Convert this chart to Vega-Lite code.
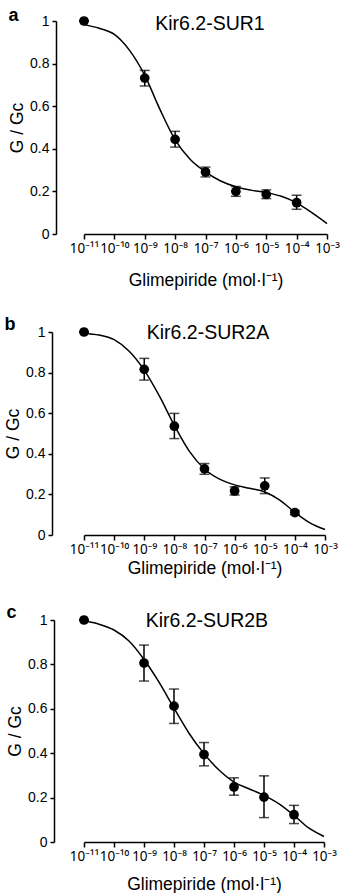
{
  "$schema": "https://vega.github.io/schema/vega-lite/v6.json",
  "padding": {"left": 4, "top": 6, "right": 6, "bottom": 0},
  "background": "white",
  "datasets": {
    "curveA": [
      {"conc": 1e-11, "g": 0.983}, {"conc": 3.162e-11, "g": 0.966}, {"conc": 1e-10, "g": 0.937},
      {"conc": 3.162e-10, "g": 0.862}, {"conc": 1e-9, "g": 0.745}, {"conc": 3.162e-9, "g": 0.585},
      {"conc": 1e-8, "g": 0.442}, {"conc": 3.162e-8, "g": 0.350}, {"conc": 1e-7, "g": 0.292},
      {"conc": 3.162e-7, "g": 0.249}, {"conc": 1e-6, "g": 0.222}, {"conc": 3.162e-6, "g": 0.206},
      {"conc": 1e-5, "g": 0.194}, {"conc": 3.162e-5, "g": 0.177}, {"conc": 1e-4, "g": 0.146},
      {"conc": 3.162e-4, "g": 0.100}, {"conc": 1e-3, "g": 0.049}
    ],
    "ptsA": [
      {"conc": 1e-11, "g": 1.0, "lo": 1.0, "hi": 1.0},
      {"conc": 1e-9, "g": 0.732, "lo": 0.695, "hi": 0.768},
      {"conc": 1e-8, "g": 0.444, "lo": 0.408, "hi": 0.482},
      {"conc": 1e-7, "g": 0.291, "lo": 0.268, "hi": 0.314},
      {"conc": 1e-6, "g": 0.200, "lo": 0.177, "hi": 0.223},
      {"conc": 1e-5, "g": 0.186, "lo": 0.166, "hi": 0.207},
      {"conc": 1e-4, "g": 0.147, "lo": 0.116, "hi": 0.182}
    ],
    "curveB": [
      {"conc": 1e-11, "g": 0.993}, {"conc": 3.162e-11, "g": 0.985}, {"conc": 1e-10, "g": 0.962},
      {"conc": 3.162e-10, "g": 0.905}, {"conc": 1e-9, "g": 0.812}, {"conc": 3.162e-9, "g": 0.685},
      {"conc": 1e-8, "g": 0.540}, {"conc": 3.162e-8, "g": 0.412}, {"conc": 1e-7, "g": 0.325},
      {"conc": 3.162e-7, "g": 0.275}, {"conc": 1e-6, "g": 0.247}, {"conc": 3.162e-6, "g": 0.230},
      {"conc": 1e-5, "g": 0.212}, {"conc": 3.162e-5, "g": 0.172}, {"conc": 1e-4, "g": 0.112},
      {"conc": 3.162e-4, "g": 0.060}, {"conc": 1e-3, "g": 0.027}
    ],
    "ptsB": [
      {"conc": 1e-11, "g": 1.0, "lo": 1.0, "hi": 1.0},
      {"conc": 1e-9, "g": 0.816, "lo": 0.763, "hi": 0.870},
      {"conc": 1e-8, "g": 0.536, "lo": 0.475, "hi": 0.599},
      {"conc": 1e-7, "g": 0.326, "lo": 0.299, "hi": 0.352},
      {"conc": 1e-6, "g": 0.217, "lo": 0.197, "hi": 0.237},
      {"conc": 1e-5, "g": 0.242, "lo": 0.204, "hi": 0.281},
      {"conc": 1e-4, "g": 0.110, "lo": 0.100, "hi": 0.120}
    ],
    "curveC": [
      {"conc": 1e-11, "g": 0.995}, {"conc": 3.162e-11, "g": 0.981}, {"conc": 1e-10, "g": 0.955},
      {"conc": 3.162e-10, "g": 0.905}, {"conc": 1e-9, "g": 0.822}, {"conc": 3.162e-9, "g": 0.720},
      {"conc": 1e-8, "g": 0.603}, {"conc": 3.162e-8, "g": 0.490}, {"conc": 1e-7, "g": 0.398},
      {"conc": 3.162e-7, "g": 0.324}, {"conc": 1e-6, "g": 0.270}, {"conc": 3.162e-6, "g": 0.240},
      {"conc": 1e-5, "g": 0.210}, {"conc": 3.162e-5, "g": 0.172}, {"conc": 1e-4, "g": 0.120},
      {"conc": 3.162e-4, "g": 0.062}, {"conc": 1e-3, "g": 0.025}
    ],
    "ptsC": [
      {"conc": 1e-11, "g": 1.0, "lo": 1.0, "hi": 1.0},
      {"conc": 1e-9, "g": 0.806, "lo": 0.725, "hi": 0.887},
      {"conc": 1e-8, "g": 0.612, "lo": 0.534, "hi": 0.689},
      {"conc": 1e-7, "g": 0.394, "lo": 0.343, "hi": 0.448},
      {"conc": 1e-6, "g": 0.248, "lo": 0.211, "hi": 0.289},
      {"conc": 1e-5, "g": 0.202, "lo": 0.110, "hi": 0.298},
      {"conc": 1e-4, "g": 0.123, "lo": 0.083, "hi": 0.165}
    ]
  },
  "spacing": 27,
  "vconcat": [
    {
      "width": 243, "height": 213,
      "title": {"text": "a", "anchor": "start", "frame": "bounds", "fontSize": 18, "fontWeight": "bold", "baseline": "alphabetic", "offset": -25},
      "layer": [
        {"data": {"name": "curveA"}, "mark": {"type": "line", "interpolate": "monotone", "color": "black", "strokeWidth": 1.5},
         "encoding": {
           "x": {"field": "conc", "type": "quantitative", "title": "Glimepiride (mol·l⁻¹)",
             "scale": {"type": "log", "domain": [1e-11, 1e-3], "nice": false},
             "axis": {"values": [1e-11, 1e-10, 1e-9, 1e-8, 1e-7, 1e-6, 1e-5, 1e-4, 1e-3], "titlePadding": 17,
               "labelExpr": "'10' + ['⁻¹¹','⁻¹⁰','⁻⁹','⁻⁸','⁻⁷','⁻⁶','⁻⁵','⁻⁴','⁻³'][round(log(datum.value)/LN10)+11]"}},
           "y": {"field": "g", "type": "quantitative", "title": "G / Gc", "scale": {"domain": [0, 1], "nice": false},
             "axis": {"values": [0, 0.2, 0.4, 0.6, 0.8, 1], "format": "~g", "offset": 28}}}},
        {"data": {"name": "ptsA"}, "mark": {"type": "errorbar", "color": "black", "thickness": 1.5, "ticks": {"size": 10}},
         "encoding": {"x": {"field": "conc", "type": "quantitative", "title": "Glimepiride (mol·l⁻¹)"},
           "y": {"field": "lo", "type": "quantitative", "title": "G / Gc"}, "y2": {"field": "hi"}}},
        {"data": {"name": "ptsA"}, "mark": {"type": "point", "filled": true, "size": 95, "color": "black", "opacity": 1},
         "encoding": {"x": {"field": "conc", "type": "quantitative", "title": "Glimepiride (mol·l⁻¹)"},
           "y": {"field": "g", "type": "quantitative", "title": "G / Gc"}}},
        {"data": {"values": [{"label": "Kir6.2-SUR1"}]}, "mark": {"type": "text", "fontSize": 19.5, "baseline": "alphabetic", "align": "center", "color": "black"},
         "encoding": {"x": {"datum": 1.4e-7}, "y": {"datum": 0.958}, "text": {"field": "label", "type": "nominal"}}}
      ]
    },
    {
      "width": 241, "height": 203,
      "title": {"text": "b", "anchor": "start", "frame": "bounds", "fontSize": 18, "fontWeight": "bold", "baseline": "alphabetic", "offset": -25},
      "layer": [
        {"data": {"name": "curveB"}, "mark": {"type": "line", "interpolate": "monotone", "color": "black", "strokeWidth": 1.5},
         "encoding": {
           "x": {"field": "conc", "type": "quantitative", "title": "Glimepiride (mol·l⁻¹)",
             "scale": {"type": "log", "domain": [1e-11, 1e-3], "nice": false},
             "axis": {"values": [1e-11, 1e-10, 1e-9, 1e-8, 1e-7, 1e-6, 1e-5, 1e-4, 1e-3], "titlePadding": 4,
               "labelExpr": "'10' + ['⁻¹¹','⁻¹⁰','⁻⁹','⁻⁸','⁻⁷','⁻⁶','⁻⁵','⁻⁴','⁻³'][round(log(datum.value)/LN10)+11]"}},
           "y": {"field": "g", "type": "quantitative", "title": "G / Gc", "scale": {"domain": [0, 1], "nice": false},
             "axis": {"values": [0, 0.2, 0.4, 0.6, 0.8, 1], "format": "~g", "offset": 32}}}},
        {"data": {"name": "ptsB"}, "mark": {"type": "errorbar", "color": "black", "thickness": 1.5, "ticks": {"size": 10}},
         "encoding": {"x": {"field": "conc", "type": "quantitative", "title": "Glimepiride (mol·l⁻¹)"},
           "y": {"field": "lo", "type": "quantitative", "title": "G / Gc"}, "y2": {"field": "hi"}}},
        {"data": {"name": "ptsB"}, "mark": {"type": "point", "filled": true, "size": 95, "color": "black", "opacity": 1},
         "encoding": {"x": {"field": "conc", "type": "quantitative", "title": "Glimepiride (mol·l⁻¹)"},
           "y": {"field": "g", "type": "quantitative", "title": "G / Gc"}}},
        {"data": {"values": [{"label": "Kir6.2-SUR2A"}]}, "mark": {"type": "text", "fontSize": 19.5, "baseline": "alphabetic", "align": "center", "color": "black"},
         "encoding": {"x": {"datum": 1.3e-7}, "y": {"datum": 0.965}, "text": {"field": "label", "type": "nominal"}}}
      ]
    },
    {
      "width": 240, "height": 222,
      "title": {"text": "c", "anchor": "start", "frame": "bounds", "fontSize": 18, "fontWeight": "bold", "baseline": "alphabetic", "offset": -25},
      "layer": [
        {"data": {"name": "curveC"}, "mark": {"type": "line", "interpolate": "monotone", "color": "black", "strokeWidth": 1.5},
         "encoding": {
           "x": {"field": "conc", "type": "quantitative", "title": "Glimepiride (mol·l⁻¹)",
             "scale": {"type": "log", "domain": [1e-11, 1e-3], "nice": false},
             "axis": {"values": [1e-11, 1e-10, 1e-9, 1e-8, 1e-7, 1e-6, 1e-5, 1e-4, 1e-3], "titlePadding": 13,
               "labelExpr": "'10' + ['⁻¹¹','⁻¹⁰','⁻⁹','⁻⁸','⁻⁷','⁻⁶','⁻⁵','⁻⁴','⁻³'][round(log(datum.value)/LN10)+11]"}},
           "y": {"field": "g", "type": "quantitative", "title": "G / Gc", "scale": {"domain": [0, 1], "nice": false},
             "axis": {"values": [0, 0.2, 0.4, 0.6, 0.8, 1], "format": "~g", "offset": 30}}}},
        {"data": {"name": "ptsC"}, "mark": {"type": "errorbar", "color": "black", "thickness": 1.5, "ticks": {"size": 10}},
         "encoding": {"x": {"field": "conc", "type": "quantitative", "title": "Glimepiride (mol·l⁻¹)"},
           "y": {"field": "lo", "type": "quantitative", "title": "G / Gc"}, "y2": {"field": "hi"}}},
        {"data": {"name": "ptsC"}, "mark": {"type": "point", "filled": true, "size": 95, "color": "black", "opacity": 1},
         "encoding": {"x": {"field": "conc", "type": "quantitative", "title": "Glimepiride (mol·l⁻¹)"},
           "y": {"field": "g", "type": "quantitative", "title": "G / Gc"}}},
        {"data": {"values": [{"label": "Kir6.2-SUR2B"}]}, "mark": {"type": "text", "fontSize": 19.5, "baseline": "alphabetic", "align": "center", "color": "black"},
         "encoding": {"x": {"datum": 1.25e-7}, "y": {"datum": 0.967}, "text": {"field": "label", "type": "nominal"}}}
      ]
    }
  ],
  "config": {
    "font": "Liberation Sans",
    "view": {"stroke": null},
    "title": {"color": "black", "font": "Liberation Sans"},
    "axis": {
      "grid": false, "domainColor": "black", "domainWidth": 1.5, "tickColor": "black", "tickWidth": 1.5,
      "labelColor": "black", "titleColor": "black", "labelFont": "Liberation Sans", "titleFont": "Liberation Sans",
      "labelFontSize": 14, "titleFontSize": 17.5, "titleFontWeight": "normal", "tickSize": 4
    },
    "axisX": {"labelFlush": false, "labelOverlap": false, "tickSize": 5, "labelPadding": 2, "labelFont": "Noto Sans", "labelFontSize": 13.5},
    "axisY": {"labelPadding": 3, "titlePadding": 3}
  }
}
